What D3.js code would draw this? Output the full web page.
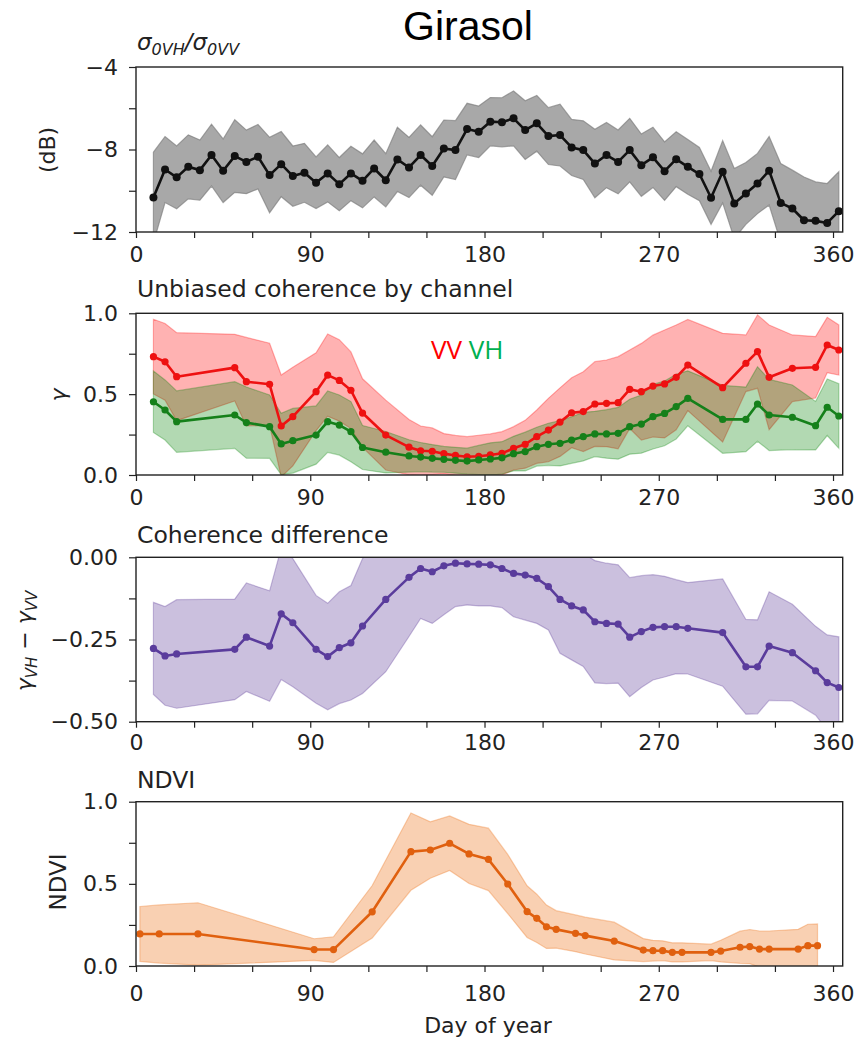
<!DOCTYPE html>
<html>
<head>
<meta charset="utf-8">
<script src="https://cdn.jsdelivr.net/npm/d3@7"></script>
<style>
  body { margin: 0; background: #fff; }
  text { font-family: "DejaVu Sans", Verdana, sans-serif; fill: #222; }
</style>
</head>
<body>
<svg id="chart" width="861" height="1041"></svg>
<script>
// ---- Backscatter ratio σ0VH/σ0VV (dB): mean and standard deviation ----
const sigmaDays = [9,15,21,27,33,39,45,51,57,63,69,75,81,87,93,99,105,111,117,123,129,135,141,147,153,159,165,171,177,
  183,189,195,201,207,213,219,225,231,237,243,249,255,261,267,273,279,285,291,297,303,309,315,321,327,333,339,345,351,357,363];
const sigmaMean = [-10.33,-8.97,-9.35,-8.84,-9.0,-8.27,-9.03,-8.32,-8.6,-8.35,-9.24,-8.71,-9.29,-9.13,-9.61,-9.16,-9.68,-9.16,-9.52,-8.92,-9.49,-8.48,-8.87,-8.27,-8.8,-7.95,-8.03,-7.01,-7.14,
  -6.65,-6.68,-6.49,-7.06,-6.73,-7.35,-7.3,-7.9,-8.03,-8.68,-8.27,-8.6,-8.03,-8.76,-8.38,-9.05,-8.47,-8.84,-9.19,-10.34,-9.08,-10.62,-10.13,-9.65,-9.03,-10.59,-10.86,-11.43,-11.46,-11.56,-10.99];
const sigmaStd = [2.2,1.6,1.52,1.55,1.46,1.5,1.54,1.76,1.54,1.56,1.83,1.58,1.46,1.43,1.25,1.38,1.29,1.32,1.31,1.38,1.29,1.56,1.46,1.46,1.42,1.38,1.43,1.25,1.25,
  1.17,1.19,1.33,1.42,1.35,1.38,1.5,1.36,1.42,1.66,1.58,1.55,1.54,1.51,1.46,1.42,1.33,1.33,1.29,1.29,1.51,1.7,1.5,1.46,1.66,1.91,1.86,2.1,1.89,1.91,1.91];

// ---- Unbiased coherence per channel and their difference ----
const cohDays = [9,15,21,51,57,69,75,81,93,99,105,111,117,129,141,147,153,159,165,171,177,183,189,195,201,207,213,219,225,231,237,243,249,255,261,267,273,279,285,303,315,321,327,339,351,357,363];
const vvMean = [0.732,0.70,0.608,0.664,0.577,0.561,0.303,0.361,0.515,0.618,0.585,0.524,0.383,0.247,0.172,0.150,0.147,0.132,0.121,0.113,0.116,0.124,0.134,0.165,0.19,0.237,0.278,0.327,0.385,0.392,0.439,0.443,0.447,0.530,0.515,0.550,0.563,0.604,0.680,0.540,0.691,0.763,0.604,0.660,0.666,0.804,0.773];
const vvStd = [0.231,0.237,0.272,0.206,0.274,0.254,0.315,0.305,0.241,0.254,0.252,0.237,0.212,0.216,0.171,0.153,0.144,0.124,0.124,0.124,0.13,0.13,0.134,0.134,0.148,0.165,0.196,0.212,0.216,0.247,0.262,0.268,0.285,0.243,0.299,0.315,0.334,0.324,0.282,0.336,0.175,0.227,0.324,0.206,0.19,0.171,0.155];
const vhMean = [0.453,0.402,0.330,0.371,0.324,0.299,0.192,0.212,0.247,0.330,0.309,0.268,0.170,0.141,0.118,0.111,0.103,0.097,0.091,0.086,0.093,0.099,0.106,0.132,0.145,0.175,0.19,0.196,0.216,0.237,0.254,0.254,0.258,0.299,0.315,0.361,0.381,0.423,0.474,0.344,0.344,0.439,0.371,0.357,0.305,0.419,0.365];
const vhStd = [0.19,0.186,0.19,0.206,0.22,0.196,0.19,0.2,0.18,0.19,0.186,0.186,0.136,0.128,0.1,0.09,0.085,0.08,0.08,0.08,0.09,0.1,0.1,0.107,0.12,0.12,0.13,0.14,0.144,0.15,0.14,0.15,0.16,0.17,0.18,0.2,0.2,0.2,0.17,0.21,0.2,0.23,0.22,0.2,0.15,0.175,0.2];
const diffMean = [-0.277,-0.300,-0.294,-0.280,-0.243,-0.270,-0.172,-0.199,-0.280,-0.302,-0.275,-0.260,-0.209,-0.128,-0.061,-0.034,-0.044,-0.026,-0.018,-0.020,-0.021,-0.023,-0.034,-0.049,-0.054,-0.064,-0.089,-0.128,-0.148,-0.160,-0.196,-0.201,-0.203,-0.243,-0.226,-0.213,-0.211,-0.211,-0.216,-0.229,-0.333,-0.333,-0.270,-0.290,-0.345,-0.381,-0.396];
const diffStd = [0.14,0.15,0.165,0.153,0.165,0.168,0.2,0.195,0.164,0.162,0.17,0.174,0.205,0.22,0.18,0.152,0.157,0.149,0.132,0.125,0.127,0.125,0.119,0.132,0.137,0.137,0.132,0.164,0.164,0.172,0.186,0.183,0.18,0.181,0.17,0.16,0.153,0.143,0.139,0.163,0.144,0.143,0.165,0.147,0.135,0.145,0.154];

// ---- NDVI ----
const ndviDays = [2,12,32,92,102,122,142,152,162,172,182,192,202,207,212,217,227,232,247,262,267,272,277,282,297,302,312,317,322,327,342,347,352];
const ndviMean = [0.195,0.195,0.195,0.10,0.10,0.33,0.696,0.706,0.747,0.682,0.649,0.499,0.331,0.290,0.239,0.223,0.199,0.185,0.152,0.097,0.093,0.093,0.083,0.083,0.083,0.091,0.114,0.118,0.103,0.103,0.103,0.124,0.124];
const ndviStd = [0.167,0.177,0.19,0.066,0.078,0.16,0.235,0.172,0.166,0.18,0.19,0.18,0.157,0.147,0.132,0.114,0.112,0.112,0.115,0.07,0.063,0.06,0.058,0.058,0.05,0.066,0.098,0.104,0.11,0.11,0.12,0.13,0.132];

// ---- Axis ticks ----
const xTicks = [0,30,60,90,120,150,180,210,240,270,300,330,360];
const xTickLabels = [0,90,180,270,360];
const sigmaTicks = [-4,-6,-8,-10,-12];
const sigmaTickLabels = [-4,-8,-12];
const unitTicks = [0,0.25,0.5,0.75,1.0];
const unitTickLabels = [0,0.5,1.0];
const diffTicks = [0,-0.125,-0.25,-0.375,-0.5];
const diffTickLabels = [0,-0.25,-0.5];

const svg = d3.select('#chart');
svg.append('rect').attr('width', 861).attr('height', 1041).attr('fill', '#fff');

const X0 = 136, X1 = 842.7;
const x = d3.scaleLinear().domain([0, 365]).range([X0, X1]);
const minus = s => String(s).replace('-', '\u2212');

function zip(days, mean, std) {
  return days.map((d, i) => ({ d, m: mean[i], s: std[i] }));
}

function drawPanel(p, idx) {
  const y = d3.scaleLinear().domain(p.yDomain).range([p.bottom, p.top]);
  const g = svg.append('g');
  const clipId = 'clip' + idx;
  svg.append('clipPath').attr('id', clipId)
    .append('rect').attr('x', X0).attr('y', p.top).attr('width', X1 - X0).attr('height', p.bottom - p.top);

  const plot = g.append('g').attr('clip-path', `url(#${clipId})`);
  const area = d3.area().x(o => x(o.d)).y0(o => y(o.m - o.s)).y1(o => y(o.m + o.s));
  const line = d3.line().x(o => x(o.d)).y(o => y(o.m));

  p.series.forEach(s => {
    plot.append('path').datum(s.data).attr('d', area)
      .attr('fill', s.band).attr('fill-opacity', s.bandOpacity)
      .attr('stroke', s.band).attr('stroke-opacity', s.bandOpacity).attr('stroke-width', 1.2);
  });
  p.series.forEach(s => {
    plot.append('path').datum(s.data).attr('d', line)
      .attr('fill', 'none').attr('stroke', s.color).attr('stroke-width', 2.6)
      .attr('stroke-linejoin', 'round');
    plot.selectAll(null).data(s.data).enter().append('circle')
      .attr('cx', o => x(o.d)).attr('cy', o => y(o.m)).attr('r', s.r)
      .attr('fill', s.color);
  });

  // axes
  const xa = d3.axisBottom(x).tickValues(xTicks).tickSize(6).tickPadding(p.xPad)
    .tickFormat(d => xTickLabels.includes(d) ? d : '');
  const xg = g.append('g').attr('transform', `translate(0,${p.bottom})`).call(xa);
  const ya = d3.axisLeft(y).tickValues(p.yTicks).tickSize(7).tickPadding(11)
    .tickFormat(d => p.yLabels.includes(d) ? minus(p.fmt(d)) : '');
  const yg = g.append('g').attr('transform', `translate(${X0},0)`).call(ya);
  [xg, yg].forEach(a => {
    a.select('.domain').remove();
    a.selectAll('.tick line').attr('stroke', '#222').attr('stroke-width', 1.2);
    a.selectAll('.tick text').attr('font-size', 22).attr('font-family', '"DejaVu Sans", sans-serif').attr('fill', '#222');
  });
  g.append('rect').attr('x', X0).attr('y', p.top).attr('width', X1 - X0).attr('height', p.bottom - p.top)
    .attr('fill', 'none').attr('stroke', '#222').attr('stroke-width', 1.4);

  if (p.subtitle) {
    g.append('text').attr('x', 137).attr('y', p.subtitleY).attr('font-size', 23.5).text(p.subtitle);
  }
  return { g, y };
}

// Panel 1: backscatter ratio
drawPanel({
  top: 67, bottom: 232, yDomain: [-12, -4], yTicks: sigmaTicks, yLabels: sigmaTickLabels, fmt: d3.format('d'), xPad: 8.4,
  series: [{ data: zip(sigmaDays, sigmaMean, sigmaStd), color: '#111', band: '#7a7a7a', bandOpacity: 0.65, r: 4 }]
}, 1);

// Panel 2: coherence by channel
drawPanel({
  top: 313.3, bottom: 475, yDomain: [0, 1], yTicks: unitTicks, yLabels: unitTickLabels, fmt: d3.format('.1f'), xPad: 8.4,
  subtitle: 'Unbiased coherence by channel', subtitleY: 297,
  series: [
    { data: zip(cohDays, vvMean, vvStd), color: '#ee1111', band: '#ff0000', bandOpacity: 0.3, r: 3.6 },
    { data: zip(cohDays, vhMean, vhStd), color: '#15801a', band: '#008000', bandOpacity: 0.3, r: 3.6 }
  ]
}, 2);

// Panel 3: coherence difference
drawPanel({
  top: 557.3, bottom: 721.7, yDomain: [-0.5, 0], yTicks: diffTicks, yLabels: diffTickLabels, fmt: d3.format('.2f'), xPad: 6.7,
  subtitle: 'Coherence difference', subtitleY: 542.5,
  series: [{ data: zip(cohDays, diffMean, diffStd), color: '#5a3c9c', band: '#5e3c99', bandOpacity: 0.32, r: 3.6 }]
}, 3);

// Panel 4: NDVI
drawPanel({
  top: 801.7, bottom: 966, yDomain: [0, 1], yTicks: unitTicks, yLabels: unitTickLabels, fmt: d3.format('.1f'), xPad: 13.4,
  subtitle: 'NDVI', subtitleY: 788,
  series: [{ data: zip(ndviDays, ndviMean, ndviStd), color: '#e0600f', band: '#ee7722', bandOpacity: 0.35, r: 3.6 }]
}, 4);

// Title
svg.append('text').attr('x', 468).attr('y', 40).attr('text-anchor', 'middle')
  .style('font-family', '"Liberation Sans", Arial, sans-serif').attr('font-size', 41).style('fill', '#000')
  .text('Girasol');

// σ0VH/σ0VV heading
const sig = svg.append('text').attr('x', 137).attr('y', 50).attr('font-size', 23).attr('font-style', 'italic');
sig.append('tspan').text('σ');
sig.append('tspan').attr('font-size', 16).attr('dy', 5).text('0VH');
sig.append('tspan').attr('dy', -5).text('/σ');
sig.append('tspan').attr('font-size', 16).attr('dy', 5).text('0VV');

// Channel legend
const leg = svg.append('text').attr('x', 431).attr('y', 359)
  .style('font-family', '"Open Sans", "Noto Sans", sans-serif').attr('font-size', 26);
leg.append('tspan').style('fill', '#ff0000').text('VV');
leg.append('tspan').style('fill', '#00b050').text(' VH');

// Y axis labels
function yLabel(cx, cy, build) {
  const t = svg.append('text').attr('transform', `translate(${cx},${cy}) rotate(-90)`)
    .attr('text-anchor', 'middle').attr('font-size', 22);
  build(t);
}
yLabel(47, 150, t => t.attr('dy', '0.35em').text('(dB)'));
yLabel(58, 395, t => t.attr('dy', '0.35em').attr('font-style', 'italic').text('γ'));
yLabel(25, 641, t => {
  t.attr('dy', '0.3em');
  t.append('tspan').attr('font-style', 'italic').text('γ');
  t.append('tspan').attr('font-style', 'italic').attr('font-size', 15).attr('dy', 5).text('VH');
  t.append('tspan').attr('dy', -5).text(' − ');
  t.append('tspan').attr('font-style', 'italic').text('γ');
  t.append('tspan').attr('font-style', 'italic').attr('font-size', 15).attr('dy', 5).text('VV');
});
yLabel(58, 882, t => t.attr('dy', '0.35em').attr('font-size', 23).text('NDVI'));

// X axis label
svg.append('text').attr('x', 488).attr('y', 1033).attr('text-anchor', 'middle').attr('font-size', 22)
  .text('Day of year');
</script>
</body>
</html>
